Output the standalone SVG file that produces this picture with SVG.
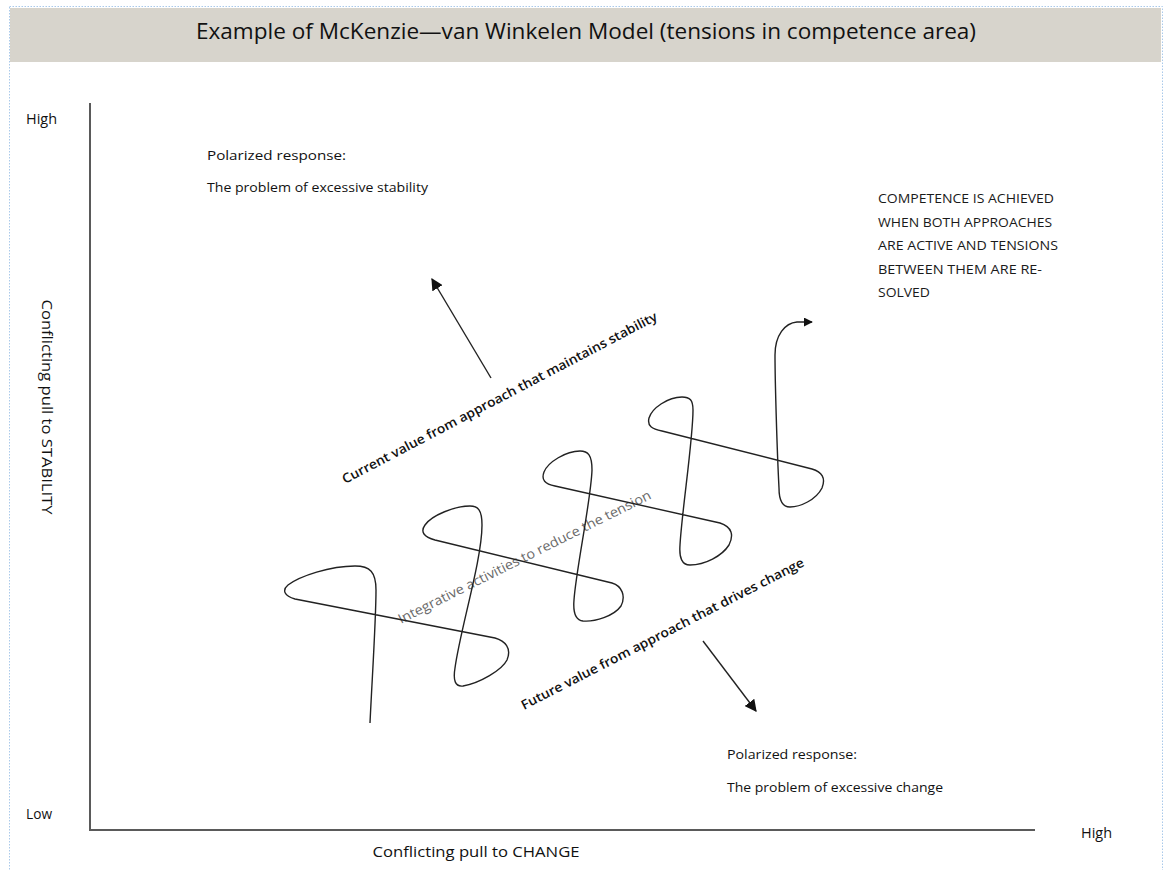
<svg xmlns="http://www.w3.org/2000/svg" width="1168" height="870" viewBox="0 0 1168 870">
  <style>
    text { font-family: "Open Sans", "Liberation Sans", Arial, sans-serif; fill: #111; }
    .title { font-size: 21px; }
    .lbl { font-size: 13px; }
    .axis { font-size: 14px; }
    .caps { font-size: 12.5px; fill: #1a1a1a; }
    .diag { font-size: 13px; font-weight: 600; }
    .soft { font-size: 13.5px; fill: #6a6a6a; }
    .ln { fill: none; stroke: #222; stroke-width: 1.4; }
    .ax { fill: none; stroke: #5a5a5a; stroke-width: 2; }
  </style>
  <defs>
    <marker id="ah" viewBox="0 0 10 10" refX="9" refY="5" markerWidth="9" markerHeight="9" markerUnits="userSpaceOnUse" orient="auto">
      <path d="M0,0 L10,5 L0,10 Z" fill="#111"/>
    </marker>
    <marker id="ahs" viewBox="0 0 10 10" refX="9" refY="5" markerWidth="12" markerHeight="12" markerUnits="userSpaceOnUse" orient="auto">
      <path d="M0,0 L10,5 L0,10 Z" fill="#111"/>
    </marker>
  </defs>

  <!-- page frame and title band -->
  <rect x="9.5" y="6.5" width="1153" height="870" fill="#fff" stroke="#a9c9ea" stroke-width="1" stroke-dasharray="1.5,1.5"/>
  <g id="title">
    <rect x="10" y="8" width="1151" height="54" fill="#d7d4cc"/>
    <text class="title" x="586" y="39" text-anchor="middle" textLength="780" lengthAdjust="spacingAndGlyphs">Example of McKenzie—van Winkelen Model (tensions in competence area)</text>
  </g>

  <!-- axes -->
  <g id="axes">
    <path class="ax" d="M90,103 L90,830 L1035,830"/>
    <text class="axis" x="26" y="124" textLength="31" lengthAdjust="spacingAndGlyphs">High</text>
    <text class="axis" x="26" y="819" textLength="26" lengthAdjust="spacingAndGlyphs">Low</text>
    <text class="axis" x="1081" y="838" textLength="31" lengthAdjust="spacingAndGlyphs">High</text>
    <text class="axis" x="476" y="857" text-anchor="middle" textLength="207" lengthAdjust="spacingAndGlyphs">Conflicting pull to CHANGE</text>
    <text class="axis" transform="translate(42,407) rotate(90)" x="0" y="0" text-anchor="middle" textLength="215" lengthAdjust="spacingAndGlyphs">Conflicting pull to STABILITY</text>
  </g>

  <!-- quadrant notes -->
  <g id="note-stability">
    <text class="lbl" x="207" y="160" textLength="139" lengthAdjust="spacingAndGlyphs">Polarized response:</text>
    <text class="lbl" x="207" y="192" textLength="221" lengthAdjust="spacingAndGlyphs">The problem of excessive stability</text>
  </g>
  <g id="note-change">
    <text class="lbl" x="727" y="759" textLength="130" lengthAdjust="spacingAndGlyphs">Polarized response:</text>
    <text class="lbl" x="727" y="792" textLength="216" lengthAdjust="spacingAndGlyphs">The problem of excessive change</text>
  </g>
  <g id="note-competence">
    <text class="caps" x="878" y="203" textLength="176" lengthAdjust="spacingAndGlyphs">COMPETENCE IS ACHIEVED</text>
    <text class="caps" x="878" y="227" textLength="174" lengthAdjust="spacingAndGlyphs">WHEN BOTH APPROACHES</text>
    <text class="caps" x="878" y="250" textLength="180" lengthAdjust="spacingAndGlyphs">ARE ACTIVE AND TENSIONS</text>
    <text class="caps" x="878" y="274" textLength="164" lengthAdjust="spacingAndGlyphs">BETWEEN THEM ARE RE-</text>
    <text class="caps" x="878" y="297" textLength="52" lengthAdjust="spacingAndGlyphs">SOLVED</text>
  </g>

  <!-- slanted captions along the band -->
  <g id="label-current">
    <text class="diag" transform="translate(345,484) rotate(-27.7)" textLength="354" lengthAdjust="spacingAndGlyphs">Current value from approach that maintains stability</text>
  </g>
  <g id="label-integrative">
    <text class="soft" transform="translate(401,624) rotate(-26.6)" textLength="281" lengthAdjust="spacingAndGlyphs">Integrative activities to reduce the tension</text>
  </g>
  <g id="label-future">
    <text class="diag" transform="translate(524,710) rotate(-27.2)" textLength="316" lengthAdjust="spacingAndGlyphs">Future value from approach that drives change</text>
  </g>

  <!-- connectors -->
  <g id="connectors">
    <line class="ln" x1="491" y1="378" x2="432" y2="279" marker-end="url(#ahs)"/>
    <line class="ln" x1="703" y1="641" x2="756" y2="711" marker-end="url(#ahs)"/>
    <path class="ln" marker-end="url(#ah)" d="
      M370,723 C372,680 376,620 376,590
      C376,572 370,566 355,566
      C330,566 300,576 288,585
      C282,590 284,596 295,599
      L495,638
      C505,641 512,648 507,660
      C502,670 480,683 463,686
      C455,687 453,680 455,668
      C460,630 482,560 482,525
      C482,510 478,506 470,506
      C455,506 432,515 425,525
      C420,532 424,537 435,540
      L612,583
      C622,586 626,596 621,606
      C614,616 595,622 583,621
      C575,620 573,612 574,600
      C576,570 591,500 592,470
      C592,455 588,451 580,451
      C566,451 548,462 544,472
      C541,480 545,484 555,486
      L720,523
      C732,527 734,535 729,545
      C722,556 705,565 690,565
      C682,565 679,558 680,545
      C682,510 693,440 693,410
      C693,400 690,397 682,397
      C668,397 652,408 649,418
      C647,426 652,429 662,431
      L812,469
      C822,472 826,478 822,488
      C816,500 800,507 790,507
      C782,507 779,500 779,488
      C777,450 775,380 775,355
      C775,335 785,323 797,322
      L812,322"/>
  </g>
</svg>
